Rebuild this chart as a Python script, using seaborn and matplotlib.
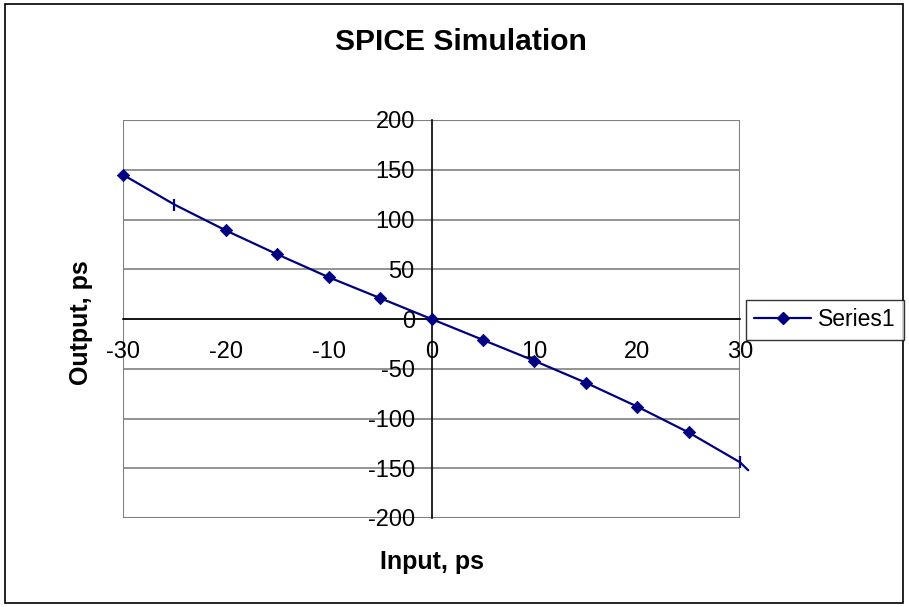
import matplotlib
matplotlib.use("Agg")
import matplotlib.pyplot as plt
import seaborn as sns
import pandas as pd
from matplotlib.patches import Rectangle
from matplotlib.lines import Line2D

# data
input_ps = [-30, -25, -20, -15, -10, -5, 0, 5, 10, 15, 20, 25, 30, 30.8]
output_ps = [145, 115, 89, 65, 42, 21, 0, -21, -42, -64, -88, -114, -144, -152]
diamond_x = [-30, -20, -15, -10, -5, 0, 5, 10, 15, 20, 25]
dash_x = [-25, 30]

df = pd.DataFrame({"Input": input_ps, "Output": output_ps})
diamonds = df[df["Input"].isin(diamond_x)]
dashes = df[df["Input"].isin(dash_x)]

sns.set_style("white", {"text.color": "black", "xtick.color": "black",
                        "ytick.color": "black", "axes.labelcolor": "black"})
plt.rcParams["font.family"] = ["Liberation Sans", "DejaVu Sans"]
plt.rcParams["axes.unicode_minus"] = False

navy = "#000080"
fig = plt.figure(figsize=(9.09, 6.07), dpi=100)
ax = fig.add_axes([123 / 909, 1 - 518 / 607, (740 - 123) / 909, (518 - 120) / 607])

sns.lineplot(data=df, x="Input", y="Output", ax=ax, color=navy, lw=1.6,
             sort=False, clip_on=False, legend=False)
sns.scatterplot(data=diamonds, x="Input", y="Output", ax=ax, color=navy,
                marker="D", s=40, edgecolor=navy, zorder=5, clip_on=False,
                legend=False)
sns.scatterplot(data=dashes, x="Input", y="Output", ax=ax, color=navy,
                marker="|", s=80, linewidth=1.6, zorder=5, clip_on=False,
                legend=False)
if ax.get_legend() is not None:
    ax.get_legend().remove()

ax.set_xlim(-30, 30)
ax.set_ylim(-200, 200)
ax.set_xticks(range(-30, 31, 10))
ax.set_yticks(range(-200, 201, 50))

# gridlines + gray plot border
for yv in range(-200, 201, 50):
    ax.axhline(yv, color="#808080", lw=1.2, zorder=0)
ax.add_patch(Rectangle((0, 0), 1, 1, transform=ax.transAxes, fill=False,
                       edgecolor="#808080", lw=1.5, zorder=0))

# axes cross at origin
for s in ["top", "right"]:
    ax.spines[s].set_visible(False)
ax.spines["left"].set_position(("data", 0))
ax.spines["bottom"].set_position(("data", 0))
for s in ["left", "bottom"]:
    ax.spines[s].set_color("black")
    ax.spines[s].set_linewidth(1.2)
    ax.spines[s].set_zorder(1)
ax.tick_params(axis="both", direction="out", length=5, width=1, color="black",
               labelsize=17)
ax.tick_params(axis="y", pad=7)
ax.tick_params(axis="x", pad=11)

ax.set_xlabel("")
ax.set_ylabel("")
fig.text(461 / 909, 1 - 50 / 607, "SPICE Simulation", ha="center", va="baseline",
         fontsize=21.6, fontweight="bold")
fig.text(432.5 / 909, 1 - 569 / 607, "Input, ps", ha="center", va="baseline",
         fontsize=18, fontweight="bold")
fig.text(81 / 909, 1 - 323 / 607, "Output, ps", ha="center", va="center",
         rotation=90, fontsize=18, fontweight="bold")

# legend
handle = Line2D([], [], color=navy, lw=1.6, marker="D", markersize=6)
leg = fig.legend([handle], ["Series1"], loc="center left",
                 bbox_to_anchor=(746 / 909, 1 - 320 / 607), fontsize=16.5,
                 frameon=True, fancybox=False, edgecolor="black",
                 handlelength=2.5, borderpad=0.35, handletextpad=0.3,
                 borderaxespad=0)
leg.get_frame().set_linewidth(1.0)

# outer chart border
fig.add_artist(Rectangle((5 / 909, 4 / 607), 898 / 909, 599 / 607,
                         transform=fig.transFigure, fill=False,
                         edgecolor="black", lw=1.2))

fig.savefig("out.png", dpi=100)
